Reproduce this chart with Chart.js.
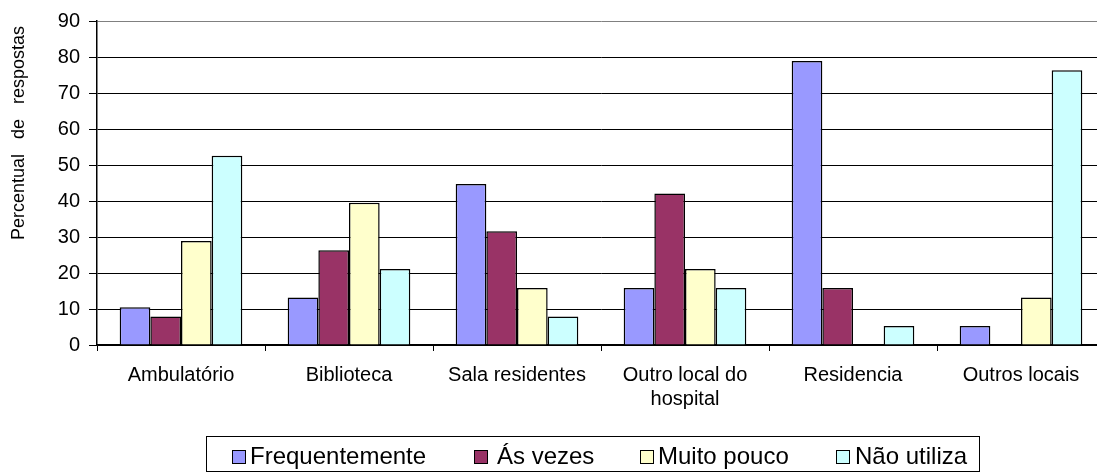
<!DOCTYPE html>
<html>
<head>
<meta charset="utf-8">
<script src="https://cdn.jsdelivr.net/npm/chart.js@4/dist/chart.umd.min.js"></script>
<style>
  html, body { margin: 0; padding: 0; background: #fff; overflow: hidden; }
  #wrap { position: relative; width: 1097px; height: 474px; overflow: hidden; }
  #chart-1 { position: absolute; left: 0; top: 0; }
  #legend { position: absolute; left: 206px; top: 436px; width: 774px; height: 36px;
    border: 1px solid #000; box-sizing: border-box; font-family: 'Liberation Sans', Arial, sans-serif; }
  .sw { position: absolute; top: 13px; width: 14px; height: 14px; border: 1px solid #000; box-sizing: border-box; }
  .tx { position: absolute; top: 7px; font-size: 24px; line-height: 24px; color: #000; white-space: nowrap; }
</style>
</head>
<body>
<div id="wrap">
  <canvas id="chart-1"></canvas>
  <div id="legend"></div>
</div>
<script>
const categories = ['Ambulatório', 'Biblioteca', 'Sala residentes', ['Outro local do', 'hospital'], 'Residencia', 'Outros locais'];
const seriesNames = ['Frequentemente', 'Ás vezes', 'Muito pouco', 'Não utiliza'];
const frequentemente = [10.5, 13.2, 44.7, 15.8, 78.9, 5.3];
const asVezes = [7.9, 26.3, 31.6, 42.1, 15.8, 0];
const muitoPouco = [28.9, 39.5, 15.8, 21.1, 0, 13.2];
const naoUtiliza = [52.6, 21.1, 7.9, 15.8, 5.3, 76.3];
const yTicks = [0, 10, 20, 30, 40, 50, 60, 70, 80, 90];

const colors = ['#9999FF', '#993366', '#FFFFCC', '#CCFFFF'];
const FONT = "'Liberation Sans', Arial, sans-serif";

// legend in html, positioned like the original
const legendX = [[25, 43], [267, 290], [433, 451], [629, 648]];
const legend = document.getElementById('legend');
seriesNames.forEach((name, i) => {
  const sw = document.createElement('div');
  sw.className = 'sw';
  sw.style.left = legendX[i][0] + 'px';
  sw.style.background = colors[i];
  legend.appendChild(sw);
  const tx = document.createElement('div');
  tx.className = 'tx';
  tx.style.left = legendX[i][1] + 'px';
  tx.textContent = name;
  legend.appendChild(tx);
});

const yTitle = {
  id: 'yTitle',
  afterDraw(chart) {
    const c = chart.ctx;
    c.save();
    c.translate(19, 133);
    c.rotate(-Math.PI / 2);
    c.font = '18px ' + FONT;
    c.fillStyle = '#000';
    c.textAlign = 'center';
    c.textBaseline = 'middle';
    c.fillText('Percentual   de   respostas', 0, 0);
    c.restore();
  }
};

const ctx1 = document.getElementById('chart-1');
ctx1.width = 1108;
ctx1.height = 474;

const data1 = {
  labels: categories,
  datasets: [frequentemente, asVezes, muitoPouco, naoUtiliza].map((d, i) => ({
    label: seriesNames[i],
    data: d,
    backgroundColor: colors[i],
    borderColor: '#000',
    borderWidth: 1.5,
    categoryPercentage: 0.73,
    barPercentage: 1.0
  }))
};

const config1 = {
  type: 'bar',
  data: data1,
  options: {
    responsive: false,
    animation: false,
    layout: { padding: { top: 19, left: 0, right: 3, bottom: 0 } },
    plugins: {
      legend: { display: false },
      tooltip: { enabled: false }
    },
    scales: {
      x: {
        afterFit(s) { s.height = 129; },
        border: { color: '#000', width: 1.5 },
        grid: { offset: true, drawOnChartArea: false, tickLength: 6, color: '#000', tickColor: '#000' },
        ticks: { color: '#000', padding: 12, maxRotation: 0, autoSkip: false, font: { family: FONT, size: 20, lineHeight: 1.2 } }
      },
      y: {
        min: 0,
        max: 90,
        afterFit(s) { s.width = 97; },
        afterBuildTicks(s) { s.ticks = yTicks.map(v => ({ value: v })); },
        border: { color: '#000', width: 1.5 },
        grid: {
          color: c => (c.tick && c.tick.value === 90 ? '#808080' : '#000'),
          tickColor: '#000',
          tickLength: 8,
          lineWidth: 1
        },
        ticks: { color: '#000', padding: 9, font: { family: FONT, size: 20 } }
      }
    }
  },
  plugins: [yTitle]
};

const chart1 = new Chart(ctx1, config1);
</script>
</body>
</html>
